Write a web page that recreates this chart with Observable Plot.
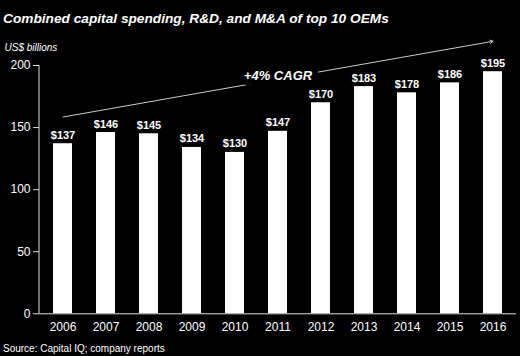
<!DOCTYPE html>
<html>
<head>
<meta charset="utf-8">
<script src="https://cdn.jsdelivr.net/npm/d3@7"></script>
<script src="https://cdn.jsdelivr.net/npm/@observablehq/plot@0.6"></script>
<style>
  html, body { margin: 0; padding: 0; background: #000; }
  body { width: 520px; height: 356px; overflow: hidden; font-family: "Liberation Sans", Arial, Helvetica, sans-serif; color: #fff; }
  #title { height: 30px; box-sizing: border-box; padding: 11px 0 0 3px; font-size: 13.7px; line-height: 16px; font-weight: bold; font-style: italic; white-space: nowrap; }
  #caption { height: 16px; box-sizing: border-box; padding: 3px 0 0 3px; font-size: 10px; line-height: 12px; white-space: nowrap; }
  #chart svg { display: block; background: #000; }
</style>
</head>
<body>
<div id="title">Combined capital spending, R&amp;D, and M&amp;A of top 10 OEMs</div>
<div id="chart"></div>
<div id="caption">Source: Capital IQ; company reports</div>
<script>
const years = ["2006", "2007", "2008", "2009", "2010", "2011", "2012", "2013", "2014", "2015", "2016"];
const values = [137, 146, 145, 134, 130, 147, 170, 183, 178, 186, 195];
const yTicks = [0, 50, 100, 150, 200];
const unitLabel = "US$ billions";
const cagrLabel = "+4% CAGR";
const cagrStart = {year: "2006", value: 158.5};
const cagrEnd = {year: "2016", value: 219.5};
const cagrLabelAt = {year: "2011", value: 192};

const data = years.map((year, i) => ({year, value: values[i], label: "$" + values[i]}));
const arrowData = [{x1: cagrStart.year, y1: cagrStart.value, x2: cagrEnd.year, y2: cagrEnd.value}];

const yAxisLine = (index, scales, channels, dimensions) => {
  const x = dimensions.marginLeft;
  return d3.create("svg:line")
    .attr("x1", x).attr("x2", x)
    .attr("y1", scales.y(d3.min(yTicks))).attr("y2", scales.y(d3.max(yTicks)))
    .attr("stroke", "#ddd").attr("stroke-width", 1)
    .node();
};

const chart = Plot.plot({
  width: 520,
  height: 310,
  marginLeft: 39,
  marginRight: 4,
  marginTop: 35,
  marginBottom: 26.7,
  style: {background: "#000", color: "#fff", fontFamily: "'Liberation Sans', Arial, Helvetica, sans-serif", overflow: "visible"},
  x: {domain: years, paddingInner: 0.55, paddingOuter: 0.27},
  y: {domain: [0, 200], ticks: yTicks},
  marks: [
    Plot.barY(data, {x: "year", y: "value", fill: "#fff"}),
    Plot.ruleY([0], {stroke: "#ddd", strokeWidth: 1}),
    yAxisLine,
    Plot.axisY({ticks: yTicks, tickSize: 6, tickPadding: 3, fontSize: 12, stroke: "#ddd", fill: "#fff", label: null}),
    Plot.axisX({tickSize: 0, tickPadding: 9, fontSize: 12, fill: "#fff", label: null}),
    Plot.text([unitLabel], {frameAnchor: "top-left", dx: -35, dy: -22, textAnchor: "start", fontSize: 10, fontStyle: "italic", fill: "#fff"}),
    Plot.text(data, {x: "year", y: "value", text: "label", lineAnchor: "bottom", dy: -5, fontSize: 11, fontWeight: "bold", fill: "#fff"}),
    Plot.arrow(arrowData, {x1: "x1", y1: "y1", x2: "x2", y2: "y2", stroke: "#ccc", strokeWidth: 1, headLength: 5}),
    Plot.text([cagrLabel], {x: () => cagrLabelAt.year, y: () => cagrLabelAt.value, fontSize: 13, fontWeight: "bold", fontStyle: "italic", fill: "#fff", stroke: "#000", strokeWidth: 12})
  ]
});
document.getElementById("chart").appendChild(chart);
</script>
</body>
</html>
